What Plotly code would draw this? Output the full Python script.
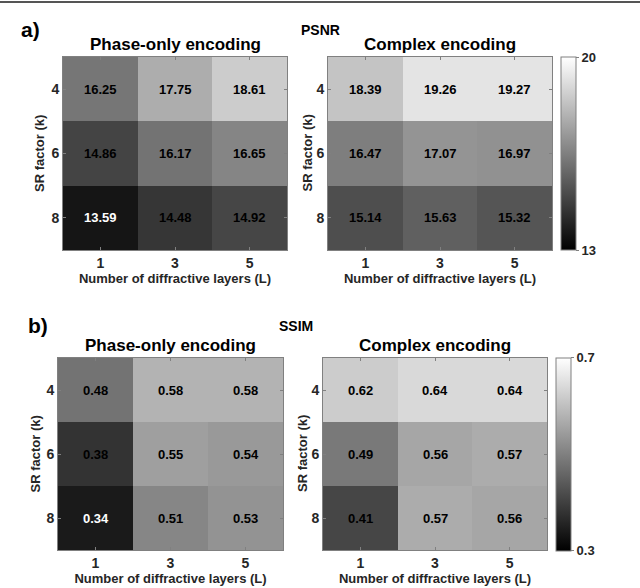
import plotly.graph_objects as go

W, H = 640, 588

layers = [1, 3, 5]          # number of diffractive layers (L)
sr_factors = [4, 6, 8]      # SR factor (k)

psnr_phase = [[16.25, 17.75, 18.61],
              [14.86, 16.17, 16.65],
              [13.59, 14.48, 14.92]]
psnr_complex = [[18.39, 19.26, 19.27],
                [16.47, 17.07, 16.97],
                [15.14, 15.63, 15.32]]
ssim_phase = [[0.48, 0.58, 0.58],
              [0.38, 0.55, 0.54],
              [0.34, 0.51, 0.53]]
ssim_complex = [[0.62, 0.64, 0.64],
                [0.49, 0.56, 0.57],
                [0.41, 0.57, 0.56]]

psnr_range = [13, 20]
ssim_range = [0.3, 0.7]

FONT = "Liberation Sans"
TXT = "#262626"
GRAY = [[0, "black"], [1, "white"]]


def px_x(x):
    return x / W


def px_y(y):
    return 1 - y / H


# pixel boxes (left, right, top, bottom) and x of the y-axis title
boxes = {
    1: (63, 287, 57, 250, 42),
    2: (328, 552, 57, 250, 307),
    3: (58, 283, 358, 550, 37),
    4: (323, 547, 358, 550, 302),
}
panels = [
    (1, psnr_phase, "coloraxis", psnr_range),
    (2, psnr_complex, "coloraxis", psnr_range),
    (3, ssim_phase, "coloraxis2", ssim_range),
    (4, ssim_complex, "coloraxis2", ssim_range),
]

fig = go.Figure()
annotations = []
for i, z, cax, rng in panels:
    sfx = "" if i == 1 else str(i)
    fig.add_trace(go.Heatmap(
        z=z, x=layers, y=sr_factors, coloraxis=cax,
        xaxis="x" + sfx, yaxis="y" + sfx, hoverinfo="skip",
    ))
    l, r, t, b, ytx = boxes[i]
    axis_common = dict(
        showline=True, linecolor="#808080", linewidth=1, mirror="allticks",
        ticks="inside", ticklen=3, tickcolor="#808080", automargin=False,
        tickfont=dict(family=FONT, size=14, color=TXT, weight="bold"),
        title_font=dict(family=FONT, size=13, color=TXT, weight="bold"),
        showgrid=False, zeroline=False,
    )
    fig.update_layout(**{
        "xaxis" + sfx: dict(
            domain=[px_x(l), px_x(r)], anchor="y" + sfx,
            range=[layers[0] - 1, layers[-1] + 1], tickvals=layers,
            title=dict(text="Number of diffractive layers (L)", standoff=0),
            **axis_common,
        ),
        "yaxis" + sfx: dict(
            domain=[px_y(b), px_y(t)], anchor="x" + sfx,
            range=[sr_factors[-1] + 1, sr_factors[0] - 1], tickvals=sr_factors,
            **axis_common,
        ),
    })
    # left-hand titles sit close to the page edge, anchor them by their right side
    left_col = i in (1, 3)
    annotations.append(dict(
        x=px_x(ytx + 7 if left_col else ytx), y=px_y((t + b) / 2),
        xref="paper", yref="paper",
        xanchor="right" if left_col else "center", yanchor="middle",
        showarrow=False, textangle=-90, text="SR factor (k)",
        font=dict(family=FONT, size=13, color=TXT, weight="bold"),
    ))
    lo, hi = rng
    for ri, row in enumerate(z):
        for ci, v in enumerate(row):
            frac = (v - lo) / (hi - lo)
            annotations.append(dict(
                x=layers[ci], y=sr_factors[ri], xref="x" + sfx, yref="y" + sfx,
                text=f"{v:.2f}", showarrow=False,
                font=dict(family=FONT, size=13, weight="bold",
                          color="white" if frac < 0.15 else "black"),
            ))
    annotations.append(dict(
        x=px_x((l + r) / 2), y=px_y(t - 1), xref="paper", yref="paper",
        xanchor="center", yanchor="bottom", showarrow=False,
        text="Phase-only encoding" if left_col else "Complex encoding",
        font=dict(family=FONT, size=17, color="black", weight="bold"),
    ))

# panel labels and row titles
for txt, x, y, size in [("a)", 30, 30, 21), ("b)", 38, 325, 21),
                        ("PSNR", 320, 30, 14), ("SSIM", 296, 326, 14)]:
    annotations.append(dict(
        x=px_x(x), y=px_y(y), xref="paper", yref="paper",
        xanchor="center", yanchor="middle", showarrow=False, text=txt,
        font=dict(family=FONT, size=size, color="black", weight="bold"),
    ))

cbar_common = dict(
    thickness=15, lenmode="fraction", len=193 / H, xanchor="left",
    yanchor="middle", xpad=0, ypad=0,
    outlinewidth=1, outlinecolor="#808080",
    ticks="outside", ticklen=3, tickcolor="#808080",
    tickfont=dict(family=FONT, size=13, color=TXT, weight="bold"),
)
fig.update_layout(
    width=W, height=H,
    margin=dict(l=0, r=0, t=0, b=0),
    paper_bgcolor="white", plot_bgcolor="white",
    showlegend=False,
    annotations=annotations,
    coloraxis=dict(
        colorscale=GRAY, cmin=psnr_range[0], cmax=psnr_range[1],
        colorbar=dict(x=px_x(561), y=px_y((57 + 250) / 2),
                      tickvals=psnr_range, ticktext=["13", "20"],
                      **cbar_common),
    ),
    coloraxis2=dict(
        colorscale=GRAY, cmin=ssim_range[0], cmax=ssim_range[1],
        colorbar=dict(x=px_x(556), y=px_y((358 + 550) / 2),
                      tickvals=ssim_range, ticktext=["0.3", "0.7"],
                      **cbar_common),
    ),
    shapes=[dict(type="line", xref="paper", yref="paper",
                 x0=0, x1=1, y0=px_y(2), y1=px_y(2), layer="above",
                 line=dict(color="#555555", width=2))],
)

# drop the default page margin so the figure sits at the window's corner
fig.write_html("out.html", config={"displayModeBar": False},
               post_script="document.body.style.margin = '0';")
